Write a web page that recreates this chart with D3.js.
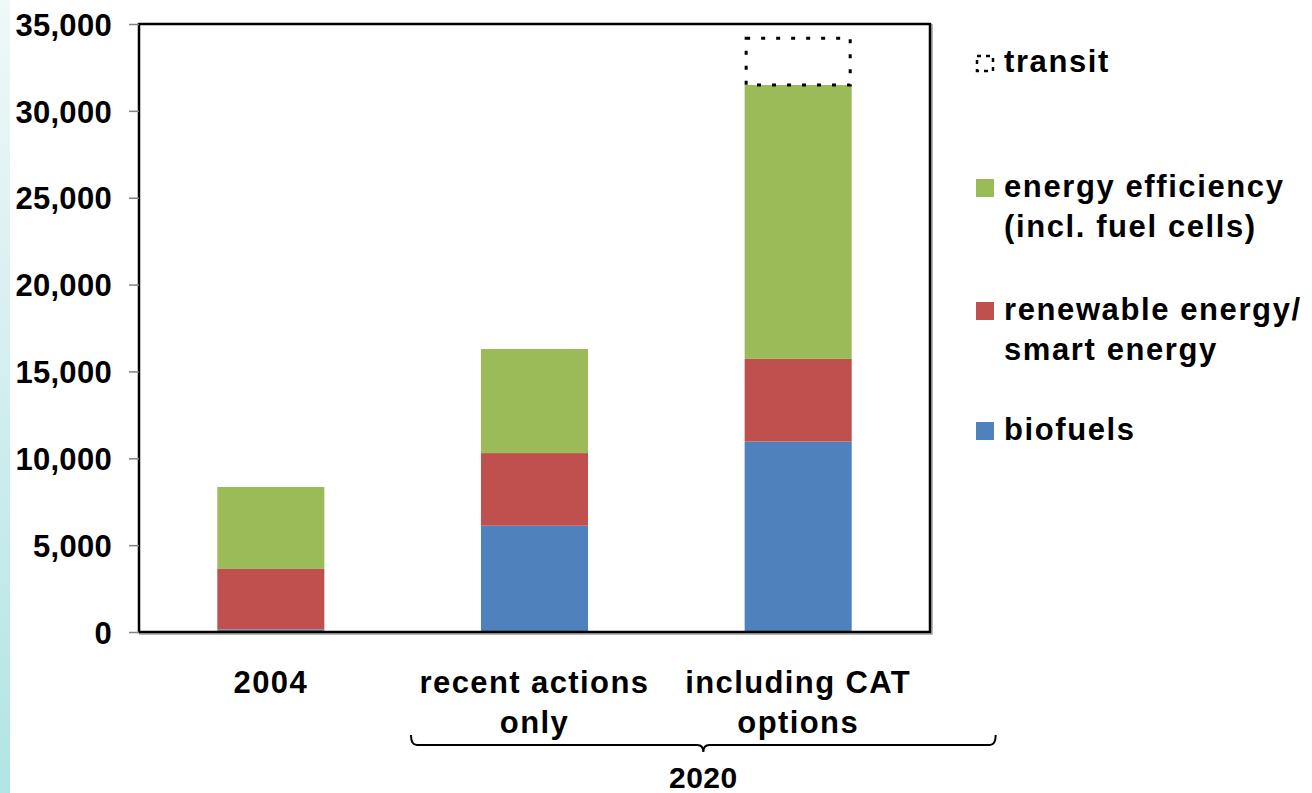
<!DOCTYPE html>
<html><head><meta charset="utf-8">
<script src="https://cdn.jsdelivr.net/npm/d3@7"></script>
<style>
body{margin:0;background:#fff;overflow:hidden;}
svg{display:block;font-family:"Liberation Sans",Arial,sans-serif;font-weight:bold;}
</style>
</head><body>
<svg id="c" width="1312" height="793"></svg>
<script>
// ---- data ----
const categories = ["2004", "recent actions only", "including CAT options"];
const categoryLines = [["2004"], ["recent actions", "only"], ["including CAT", "options"]];
const biofuels   = [150, 6120, 10960];
const renewable  = [3480, 4180, 4760];
const efficiency = [4720, 5990, 15770];
const transit    = [0, 0, 2780];
const yTicks = [0, 5000, 10000, 15000, 20000, 25000, 30000, 35000];
const seriesKeys = ["biofuels", "renewable", "efficiency", "transit"];
const seriesColors = ["#4f81bd", "#c0504d", "#9bbb59", "none"];
const legendItems = [
  {key: "transit", lines: ["transit"]},
  {key: "efficiency", lines: ["energy efficiency", "(incl. fuel cells)"]},
  {key: "renewable", lines: ["renewable energy/", "smart energy"]},
  {key: "biofuels", lines: ["biofuels"]}
];
const groupLabel = "2020";
const groupCategories = ["recent actions only", "including CAT options"];

// ---- build ----
const rows = categories.map((c, i) => ({
  cat: c, biofuels: biofuels[i], renewable: renewable[i], efficiency: efficiency[i], transit: transit[i]
}));
const stacked = d3.stack().keys(seriesKeys)(rows);
const color = d3.scaleOrdinal().domain(seriesKeys).range(seriesColors);

const svg = d3.select("#c");
const L = 139, R = 930, T = 24, B = 632;

// left gradient strip
const defs = svg.append("defs");
const lg = defs.append("linearGradient").attr("id", "strip").attr("x1", 0).attr("y1", 0).attr("x2", 0).attr("y2", 1);
lg.append("stop").attr("offset", "0%").attr("stop-color", "#f0f8f8");
lg.append("stop").attr("offset", "100%").attr("stop-color", "#b2e4e4");
svg.append("rect").attr("x", 0).attr("y", 0).attr("width", 10).attr("height", 793).attr("fill", "url(#strip)");

const x = d3.scaleBand().domain(categories).range([L, R]).paddingInner(0.594).paddingOuter(0.297);
const y = d3.scaleLinear().domain([0, 35000]).range([B, T]);

// bars
const layers = svg.append("g").selectAll("g").data(stacked).join("g");
layers.filter(d => d.key !== "transit")
  .attr("fill", d => color(d.key))
  .selectAll("rect").data(d => d).join("rect")
  .attr("x", d => x(d.data.cat))
  .attr("width", x.bandwidth())
  .attr("y", d => y(d[1]))
  .attr("height", d => y(d[0]) - y(d[1]));

layers.filter(d => d.key === "transit")
  .selectAll("rect").data(d => d.filter(v => v[1] > v[0])).join("rect")
  .attr("x", d => x(d.data.cat) + 1.5)
  .attr("width", x.bandwidth() - 3)
  .attr("y", d => y(d[1]) + 1.5)
  .attr("height", d => y(d[0]) - y(d[1]) - 1.5)
  .attr("fill", "none").attr("stroke", "#000").attr("stroke-width", 3)
  .attr("stroke-dasharray", "4,11");

// frame with shadow
svg.append("path").attr("d", `M${R + 2},${T} V${B + 2} H${L}`).attr("fill", "none").attr("stroke", "#a0a0a0").attr("stroke-width", 1.5);
svg.append("rect").attr("x", L).attr("y", T).attr("width", R - L).attr("height", B - T)
  .attr("fill", "none").attr("stroke", "#000").attr("stroke-width", 2.5);

// y axis
const yAxis = d3.axisLeft(y).tickValues(yTicks).tickSize(10).tickPadding(17)
  .tickFormat(d3.format(","));
const ga = svg.append("g").attr("transform", `translate(${L},0)`).call(yAxis);
ga.select(".domain").remove();
ga.selectAll(".tick line").attr("stroke", "#808080").attr("stroke-width", 1.5);
ga.selectAll(".tick text").attr("fill", "#000").attr("font-size", 31).attr("font-family", "Liberation Sans, Arial, sans-serif").attr("font-weight", "bold").attr("dy", "0.36em").attr("letter-spacing", 0.3);

// category labels
const cl = svg.append("g").selectAll("text").data(categories).join("text")
  .attr("text-anchor", "middle").attr("font-size", 31).attr("fill", "#000").attr("letter-spacing", 1.4)
  .attr("transform", d => `translate(${x(d) + x.bandwidth() / 2},693)`);
cl.selectAll("tspan").data((d, i) => categoryLines[i]).join("tspan")
  .attr("x", 0).attr("y", (d, j) => j * 40).text(d => d);

// brace for 2020
const gx0 = x(groupCategories[0]) - 70, gx1 = x(groupCategories[1]) + x.bandwidth() + 144;
const gmid = (gx0 + gx1) / 2;
const by = 745;
svg.append("path")
  .attr("d", `M${gx0},${by - 10} Q${gx0},${by} ${gx0 + 6},${by} H${gmid - 6} Q${gmid},${by} ${gmid},${by + 7} Q${gmid},${by} ${gmid + 6},${by} H${gx1 - 6} Q${gx1},${by} ${gx1},${by - 10}`)
  .attr("fill", "none").attr("stroke", "#000").attr("stroke-width", 2);
svg.append("text").attr("x", gmid).attr("y", 788).attr("text-anchor", "middle").attr("font-size", 30).attr("letter-spacing", 0.5).text(groupLabel);

// legend
const legendY = {transit: 72, efficiency: 197, renewable: 320, biofuels: 440};
const lgG = svg.append("g");
legendItems.forEach(it => {
  const by0 = legendY[it.key];
  if (it.key === "transit") {
    lgG.append("rect").attr("x", 977).attr("y", by0 - 16).attr("width", 16).attr("height", 15)
      .attr("fill", "none").attr("stroke", "#000").attr("stroke-width", 2.5).attr("stroke-dasharray", "4,5");
  } else {
    lgG.append("rect").attr("x", 976).attr("y", by0 - 18).attr("width", 18).attr("height", 18).attr("fill", color(it.key));
  }
  const t = lgG.append("text").attr("x", 1004).attr("y", by0).attr("font-size", 31).attr("letter-spacing", 1.6);
  it.lines.forEach((ln, j) => t.append("tspan").attr("x", 1004).attr("y", by0 + j * 39.5).text(ln));
});
</script>
</body></html>
